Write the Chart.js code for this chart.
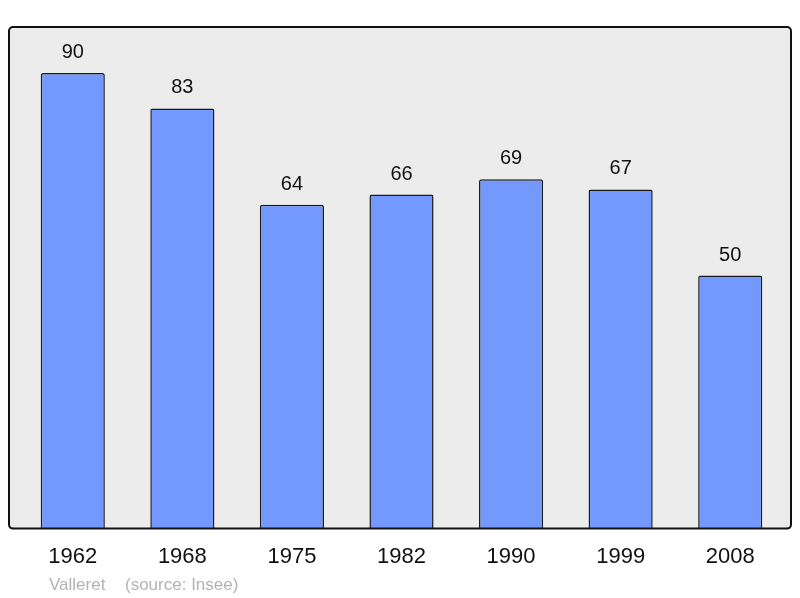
<!DOCTYPE html>
<html lang="fr">

<head>
    <meta charset="UTF-8">
    <title>Valleret - population</title>
    <style>
        body {
            margin: 0;
            background-color: #ffffff;
        }

        .chart-container {
            width: 800px;
            height: 598px;
        }
    </style>
</head>

<body>
    <div class="chart-container">
        <canvas id="popChart" width="800" height="598"></canvas>
    </div>

    <script src="https://cdn.jsdelivr.net/npm/chart.js"></script>
    <script>
        // data
        const years = ['1962', '1968', '1975', '1982', '1990', '1999', '2008'];
        const population = [90, 83, 64, 66, 69, 67, 50];
        const commune = 'Valleret';
        const sourceText = '(source: Insee)';

        // grey framed box behind the bars
        const frameBox = {
            id: 'frameBox',
            beforeDatasetsDraw(chart) {
                const { ctx, chartArea } = chart;
                const x = 9, y = chartArea.top, w = 782, h = chartArea.bottom - chartArea.top;
                ctx.save();
                ctx.beginPath();
                ctx.roundRect(x, y, w, h, 4);
                ctx.fillStyle = '#ececec';
                ctx.fill();
                ctx.restore();
            },
            afterDatasetsDraw(chart) {
                const { ctx, chartArea } = chart;
                const x = 9, y = chartArea.top, w = 782, h = chartArea.bottom - chartArea.top;
                ctx.save();
                ctx.beginPath();
                ctx.roundRect(x, y, w, h, 4);
                ctx.lineWidth = 2;
                ctx.strokeStyle = '#111111';
                ctx.stroke();
                ctx.restore();
            }
        };

        // value above each bar + source line
        const valueLabels = {
            id: 'valueLabels',
            afterDraw(chart) {
                const ctx = chart.ctx;
                const meta = chart.getDatasetMeta(0);
                ctx.save();
                ctx.font = '20px "Liberation Sans", Arial, sans-serif';
                ctx.fillStyle = '#111111';
                ctx.textAlign = 'center';
                ctx.textBaseline = 'alphabetic';
                meta.data.forEach((bar, i) => {
                    ctx.fillText(String(population[i]), bar.x, bar.y - 15);
                });

                ctx.font = '17px "Liberation Sans", Arial, sans-serif';
                ctx.fillStyle = '#b3b3b3';
                ctx.textAlign = 'left';
                ctx.fillText(commune, 49, 590);
                ctx.fillText(sourceText, 125, 590);
                ctx.restore();
            }
        };

        const ctx = document.getElementById('popChart').getContext('2d');
        new Chart(ctx, {
            type: 'bar',
            data: {
                labels: years,
                datasets: [{
                    data: population,
                    backgroundColor: '#7399ff',
                    borderColor: '#1a1a1a',
                    borderWidth: 1.5,
                    borderRadius: 2,
                    borderSkipped: 'bottom',
                    barPercentage: 0.585,
                    categoryPercentage: 1
                }]
            },
            options: {
                responsive: false,
                animation: false,
                layout: {
                    padding: { left: 18, right: 15, top: 27, bottom: 13 }
                },
                plugins: {
                    legend: { display: false },
                    tooltip: { enabled: false }
                },
                scales: {
                    y: {
                        display: false,
                        min: 0,
                        max: 99.1
                    },
                    x: {
                        grid: { display: false, drawTicks: false },
                        border: { display: false },
                        ticks: {
                            padding: 15,
                            color: '#111111',
                            font: { size: 22, family: '"Liberation Sans", Arial, sans-serif' }
                        }
                    }
                }
            },
            plugins: [frameBox, valueLabels]
        });
    </script>
</body>

</html>
